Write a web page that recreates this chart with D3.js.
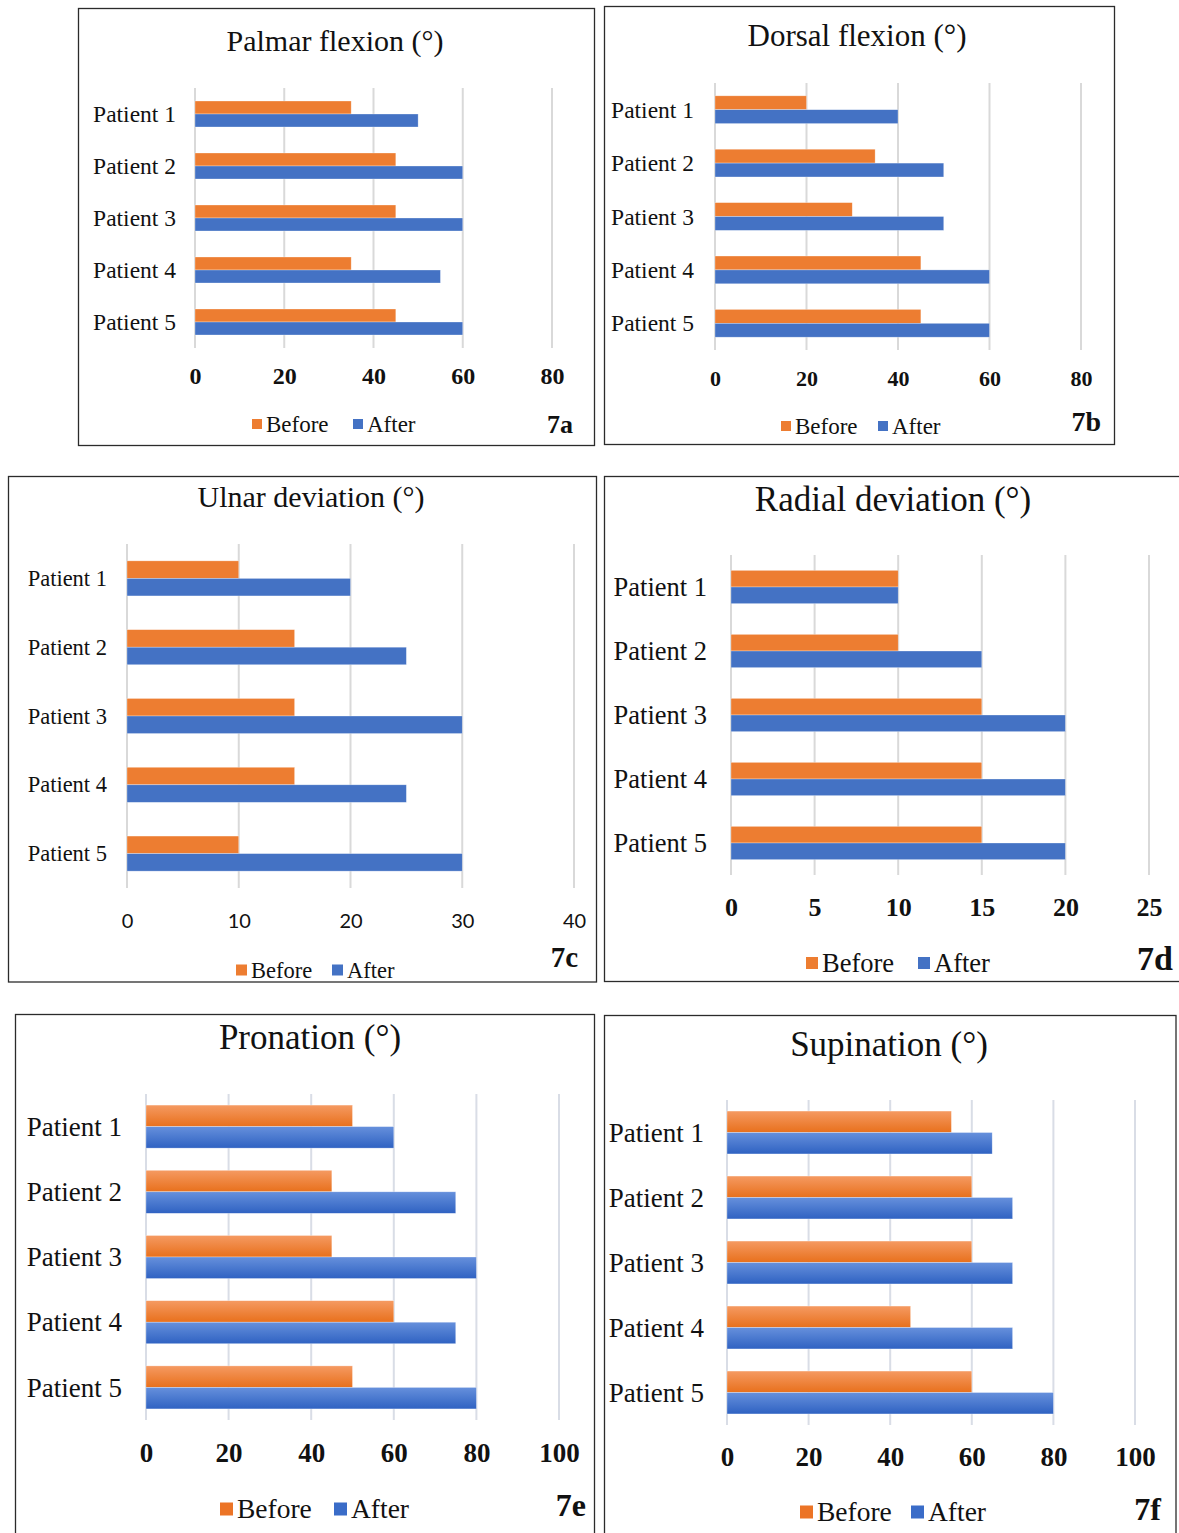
<!DOCTYPE html>
<html>
<head>
<meta charset="utf-8">
<script src="https://cdn.jsdelivr.net/npm/d3@7"></script>
<style>
  body { margin: 0; background: #fff; }
  svg text { font-family: "Liberation Serif", "Times New Roman", serif; fill: #111; }
</style>
</head>
<body>
<svg id="fig" width="1179" height="1533"></svg>
<script>
// data
const patients = ['Patient 1', 'Patient 2', 'Patient 3', 'Patient 4', 'Patient 5'];
const series = ['Before', 'After'];

const palmarBefore = [35, 45, 45, 35, 45];
const palmarAfter = [50, 60, 60, 55, 60];
const dorsalBefore = [20, 35, 30, 45, 45];
const dorsalAfter = [40, 50, 50, 60, 60];
const ulnarBefore = [10, 15, 15, 15, 10];
const ulnarAfter = [20, 25, 30, 25, 30];
const radialBefore = [10, 10, 15, 15, 15];
const radialAfter = [10, 15, 20, 20, 20];
const pronationBefore = [50, 45, 45, 60, 50];
const pronationAfter = [60, 75, 80, 75, 80];
const supinationBefore = [55, 60, 60, 45, 60];
const supinationAfter = [65, 70, 70, 70, 80];

const ticks80 = [0, 20, 40, 60, 80];
const ticks40 = [0, 10, 20, 30, 40];
const ticks25 = [0, 5, 10, 15, 20, 25];
const ticks100 = [0, 20, 40, 60, 80, 100];

const svg = d3.select('#fig');
const defs = svg.append('defs');

function addGrad(id, top, bottom) {
  let g = defs.append('linearGradient').attr('id', id)
    .attr('x1', 0).attr('y1', 0).attr('x2', 0).attr('y2', 1);
  g.append('stop').attr('offset', '0%').attr('stop-color', top);
  g.append('stop').attr('offset', '100%').attr('stop-color', bottom);
}
addGrad('gOrange', '#f59a62', '#e8701c');
addGrad('gBlue', '#6690dc', '#2f62c2');

// panel layout (positions only)
const panels = [
  { title: 'Palmar  flexion  (°)', tag: '7a', before: palmarBefore, after: palmarAfter, ticks: ticks80,
    box: [78.5, 8.5, 594.5, 445.5], x0: 195, x1: 552, gy: [88, 348], pad: 0.5,
    titleX: 335, titleY: 51, titleSize: 30, labelX: 176, labelSize: 23.5, tickY: 384, tickSize: 24, tickBold: true,
    legY: 424, legSize: 23, sq: 10, legX: [252, 353], tagX: 573, tagY: 433, tagSize: 26 },
  { title: 'Dorsal flexion (°)', tag: '7b', before: dorsalBefore, after: dorsalAfter, ticks: ticks80,
    box: [604.5, 6.5, 1114.5, 444.5], x0: 715, x1: 1081, gy: [83, 350], pad: 0.48,
    titleX: 857, titleY: 46, titleSize: 31, labelX: 694, labelSize: 23.5, tickY: 386, tickSize: 22, tickBold: true,
    legY: 426, legSize: 23, sq: 10, legX: [781, 878], tagX: 1101, tagY: 431, tagSize: 28 },
  { title: 'Ulnar deviation (°)', tag: '7c', before: ulnarBefore, after: ulnarAfter, ticks: ticks40,
    box: [8.5, 476.5, 596.5, 982], x0: 127, x1: 574, gy: [544, 888], pad: 0.49,
    titleX: 311, titleY: 507, titleSize: 30, labelX: 107, labelSize: 22.5, tickY: 928, tickSize: 20, tickBold: false,
    legY: 970, legSize: 22.5, sq: 11, legX: [236, 332], tagX: 578, tagY: 967, tagSize: 29 },
  { title: 'Radial deviation (°)', tag: '7d', before: radialBefore, after: radialAfter, ticks: ticks25,
    box: [604.5, 476.5, 1190, 981.5], x0: 731, x1: 1149, gy: [555, 875], pad: 0.48,
    titleX: 893, titleY: 511, titleSize: 35, labelX: 707, labelSize: 26.5, tickY: 916, tickSize: 26, tickBold: true,
    legY: 963, legSize: 26.5, sq: 12, legX: [806, 918], tagX: 1173, tagY: 970, tagSize: 34 },
  { title: 'Pronation (°)', tag: '7e', before: pronationBefore, after: pronationAfter, ticks: ticks100,
    box: [15.5, 1014.5, 594.5, 1545], x0: 146, x1: 559, gy: [1094, 1420], pad: 0.34, grad: true,
    titleX: 310, titleY: 1049, titleSize: 35, labelX: 122, labelSize: 27, tickY: 1462, tickSize: 27, tickBold: true,
    legY: 1509, legSize: 27.5, sq: 13, legX: [220, 334], tagX: 586, tagY: 1516, tagSize: 32 },
  { title: 'Supination (°)', tag: '7f', before: supinationBefore, after: supinationAfter, ticks: ticks100,
    box: [604.5, 1015.5, 1176, 1545], x0: 727, x1: 1135, gy: [1100, 1425], pad: 0.34, grad: true,
    titleX: 889, titleY: 1056, titleSize: 35, labelX: 704, labelSize: 27, tickY: 1466, tickSize: 27, tickBold: true,
    legY: 1512, legSize: 27.5, sq: 13, legX: [800, 911], tagX: 1161, tagY: 1520, tagSize: 32 }
];

function drawPanel(p) {
  let g = svg.append('g');
  let b = p.box;

  g.append('rect')
    .attr('x', b[0]).attr('y', b[1])
    .attr('width', b[2] - b[0]).attr('height', b[3] - b[1])
    .attr('fill', '#fff').attr('stroke', '#2b2b2b').attr('stroke-width', 1.3);

  let x = d3.scaleLinear()
    .domain([0, p.ticks[p.ticks.length - 1]])
    .range([p.x0, p.x1]);

  let y = d3.scaleBand()
    .domain(patients)
    .range(p.gy)
    .paddingInner(p.pad)
    .paddingOuter(p.pad / 2);

  let ySub = d3.scaleBand()
    .domain(series)
    .range([0, y.bandwidth()]);

  // gridlines
  g.append('g').selectAll('line')
    .data(p.ticks)
    .join('line')
    .attr('x1', d => x(d)).attr('x2', d => x(d))
    .attr('y1', p.gy[0]).attr('y2', p.gy[1])
    .attr('stroke', p.grad ? '#d9dde6' : '#d9d9d9')
    .attr('stroke-width', 2);

  // bars
  let rows = patients.map((name, i) => ({ name: name, values: [p.before[i], p.after[i]] }));
  let orange = p.grad ? 'url(#gOrange)' : '#ed7d31';
  let blue = p.grad ? 'url(#gBlue)' : '#4472c4';

  g.append('g').selectAll('g')
    .data(rows)
    .join('g')
    .attr('transform', d => 'translate(0,' + y(d.name) + ')')
    .selectAll('rect')
    .data(d => d.values.map((v, j) => ({ key: series[j], value: v })))
    .join('rect')
    .attr('x', x(0))
    .attr('y', d => ySub(d.key))
    .attr('width', d => x(d.value) - x(0))
    .attr('height', ySub.bandwidth())
    .attr('fill', d => d.key === 'Before' ? orange : blue)
    .attr('stroke', '#fff').attr('stroke-opacity', 0.5).attr('stroke-width', 0.6);

  // category labels
  let yAxis = g.append('g')
    .attr('transform', 'translate(' + p.labelX + ',0)')
    .call(d3.axisLeft(y).tickSize(0).tickPadding(0));
  yAxis.select('.domain').remove();
  yAxis.selectAll('text')
    .style('font-family', '"Liberation Serif", serif')
    .style('font-size', p.labelSize + 'px')
    .attr('fill', '#111')
    .attr('dy', '0.34em');

  // value ticks
  let xAxis = g.append('g')
    .attr('transform', 'translate(0,' + p.tickY + ')')
    .call(d3.axisBottom(x).tickValues(p.ticks).tickSize(0).tickPadding(0));
  xAxis.select('.domain').remove();
  xAxis.selectAll('text')
    .attr('dy', 0)
    .attr('y', 0)
    .style('font-family', p.tickBold ? '"Liberation Serif", serif' : 'Lato, "Open Sans", sans-serif')
    .style('font-weight', p.tickBold ? 'bold' : 'normal')
    .style('font-size', p.tickSize + 'px')
    .attr('fill', p.tickBold ? '#111' : '#6b6b6b');

  // title
  g.append('text')
    .attr('x', p.titleX)
    .attr('y', p.titleY)
    .attr('text-anchor', 'middle')
    .style('font-size', p.titleSize + 'px')
    .text(p.title);

  // legend
  let colors = [p.grad ? '#ec7426' : '#ed7d31', p.grad ? '#3a6cc8' : '#4472c4'];
  series.forEach(function(s, i) {
    g.append('rect')
      .attr('x', p.legX[i]).attr('y', p.legY - p.sq / 2)
      .attr('width', p.sq).attr('height', p.sq)
      .attr('fill', colors[i]);
    g.append('text')
      .attr('x', p.legX[i] + p.sq + 4)
      .attr('y', p.legY)
      .attr('dy', '0.34em')
      .style('font-size', p.legSize + 'px')
      .text(s);
  });

  // panel tag
  g.append('text')
    .attr('x', p.tagX).attr('y', p.tagY)
    .attr('text-anchor', 'end')
    .style('font-weight', 'bold')
    .style('font-size', p.tagSize + 'px')
    .text(p.tag);
}

panels.forEach(drawPanel);
</script>
</body>
</html>
